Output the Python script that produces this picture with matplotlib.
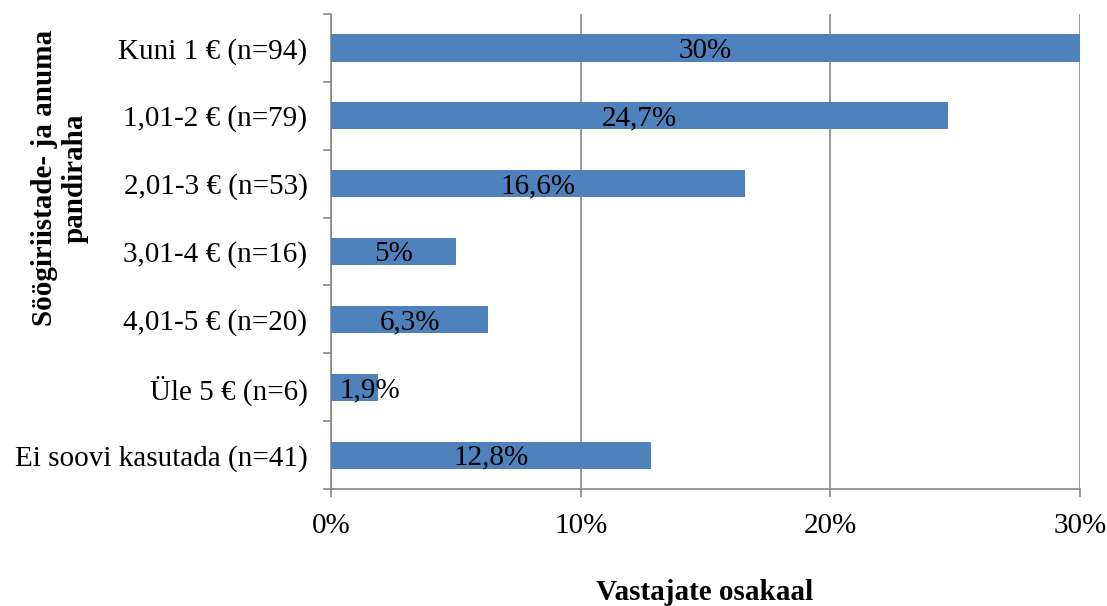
import matplotlib
matplotlib.use("Agg")
import matplotlib.pyplot as plt
from matplotlib.ticker import FixedLocator

plt.rcParams['font.family'] = ['Liberation Serif', 'DejaVu Serif']

categories = ['Kuni 1 € (n=94)', '1,01-2 € (n=79)', '2,01-3 € (n=53)', '3,01-4 € (n=16)',
              '4,01-5 € (n=20)', 'Üle 5 € (n=6)', 'Ei soovi kasutada (n=41)']
values = [30, 24.7, 16.6, 5, 6.3, 1.9, 12.8]
value_labels = ['30%', '24,7%', '16,6%', '5%', '6,3%', '1,9%', '12,8%']
xticks = [0, 10, 20, 30]
xtick_labels = ['0%', '10%', '20%', '30%']

bar_color = '#4F81BD'
axis_gray = '#878787'
fs = 21

fig = plt.figure(figsize=(11.07, 6.06), dpi=100)
ax = fig.add_axes([331 / 1107, 1 - 489 / 606, (1080 - 331) / 1107, (489 - 14) / 606])

ypos = list(range(len(categories)))[::-1]
ax.barh(ypos, values, height=0.4, color=bar_color, zorder=3)

for y, v, lab in zip(ypos, values, value_labels):
    ax.text(max(v / 2, 1.55), y - 0.04, lab, ha='center', va='center', fontsize=fs, zorder=4)

ax.set_xlim(0, 30)
ax.set_ylim(-0.5, len(categories) - 0.5)
ax.set_xticks(xticks)
ax.set_xticklabels(xtick_labels, fontsize=fs)
ax.set_yticks(ypos)
ax.set_yticklabels(categories, fontsize=fs)
ax.yaxis.set_major_locator(FixedLocator(ypos))
ax.set_yticks([y + 0.5 for y in range(-1, len(categories))], minor=True)
ax.tick_params(axis='y', which='major', length=0, pad=17)
ax.tick_params(axis='y', which='minor', length=6, color=axis_gray, width=1.2)
ax.tick_params(axis='x', which='major', length=6, color=axis_gray, width=1.2, pad=11)

ax.grid(axis='x', color=axis_gray, linewidth=1.2, zorder=0)
for side in ['top', 'right']:
    ax.spines[side].set_visible(False)
for side in ['left', 'bottom']:
    ax.spines[side].set_color(axis_gray)
    ax.spines[side].set_linewidth(1.2)

fig.text(705 / 1107, 1 - 593 / 606, 'Vastajate osakaal', ha='center', va='center',
         fontsize=fs, fontweight='bold')
fig.text(60 / 1107, 1 - 178 / 606, 'Söögiriistade- ja anuma\npandiraha', ha='center', va='center',
         rotation=90, fontsize=fs, fontweight='bold', linespacing=1.15)

fig.savefig('out.png', dpi=100)
